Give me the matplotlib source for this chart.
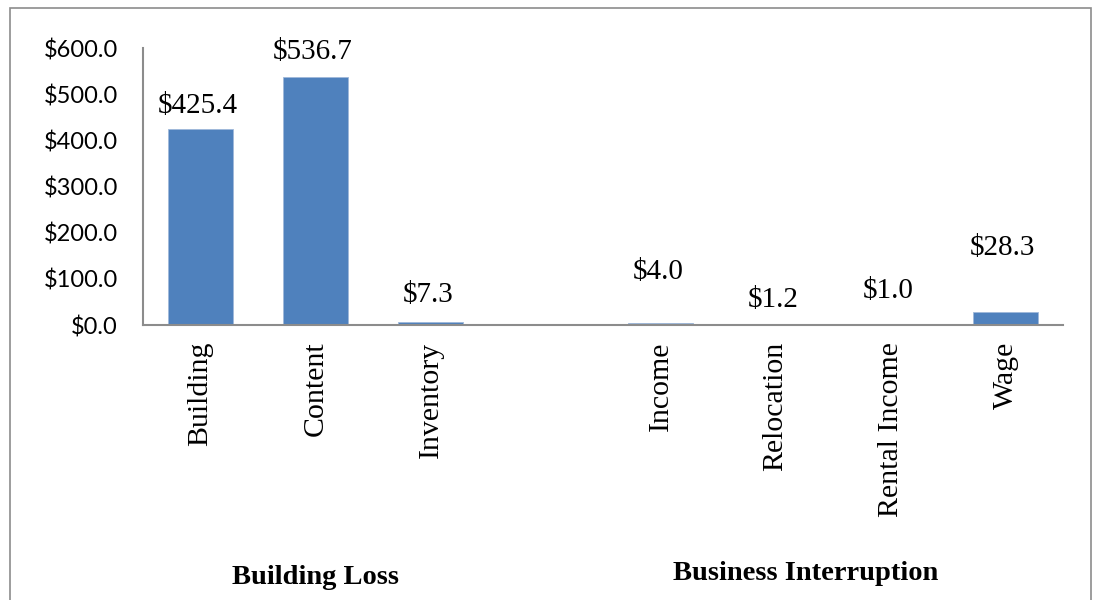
import matplotlib.pyplot as plt
from matplotlib.patches import Rectangle
import matplotlib.transforms as mtransforms

# values in $ millions
building_cats = ["Building", "Content", "Inventory"]
building_vals = [425.4, 536.7, 7.3]
business_cats = ["Income", "Relocation", "Rental Income", "Wage"]
business_vals = [4.0, 1.2, 1.0, 28.3]
group_names = ["Building Loss", "Business Interruption"]

# label offsets above the bar tops (points), as placed in the original
label_offsets = [16.5, 18, 19.5, 37, 17.5, 24.5, 46]

bar_color = "#4F81BD"
axis_color = "#8c8c8c"

fig = plt.figure(figsize=(10.97, 6.0), dpi=100)
ax = fig.add_axes([0.1304, 0.4583, 0.969 - 0.1304, 0.92 - 0.4583])

# one empty slot between the two groups
xs = list(range(len(building_cats))) + [len(building_cats) + 1 + i for i in range(len(business_cats))]
cats = building_cats + business_cats
vals = building_vals + business_vals

ax.bar(xs, vals, width=0.57, color=bar_color, edgecolor="#9fb8da", linewidth=0.6, zorder=2)

for x, v, off in zip(xs, vals, label_offsets):
    ax.annotate("${:.1f}".format(v), (x, v), xytext=(-2, off), textcoords="offset points",
                ha="center", va="center", fontsize=21, family="Liberation Serif")

ax.set_xlim(-0.5, len(xs) + 0.5)
ax.set_ylim(0, 600)
ax.set_yticks(range(0, 601, 100))
ax.set_yticklabels(["${:.1f}".format(t) for t in range(0, 601, 100)], fontsize=17, family="Lato")
ax.set_xticks(xs)
ax.set_xticklabels(cats, rotation=90, fontsize=21.5, family="Liberation Serif", va="top")
ax.tick_params(axis="y", length=0, pad=18)
ax.tick_params(axis="x", length=0, pad=12)

for s in ["top", "right"]:
    ax.spines[s].set_visible(False)
for s in ["left", "bottom"]:
    ax.spines[s].set_color(axis_color)
    ax.spines[s].set_linewidth(1.5)

# group labels below the category names
trans = mtransforms.blended_transform_factory(ax.transData, fig.transFigure)
group_x = [1.0, 5.26]
group_y = [1 - 577 / 600, 1 - 573 / 600]
for name, gx, gy in zip(group_names, group_x, group_y):
    fig.text(gx, gy, name, transform=trans, ha="center", va="center",
             fontsize=20.5, fontweight="bold", family="Liberation Serif")

# chart border
fig.patches.append(Rectangle((10 / 1097, -0.05), 1081 / 1097, 1.05 - 8 / 600,
                             transform=fig.transFigure, fill=False,
                             edgecolor="#8c8c8c", linewidth=1.2))

fig.savefig("out.png", dpi=100)
